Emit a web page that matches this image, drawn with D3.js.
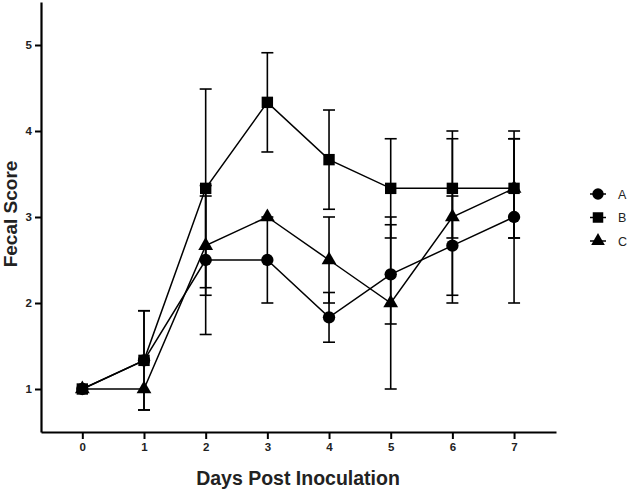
<!DOCTYPE html>
<html>
<head>
<meta charset="utf-8">
<script src="https://cdn.jsdelivr.net/npm/d3@7"></script>
<style>
  body { margin: 0; background: #fff; }
  text { font-family: "Liberation Sans", Arial, sans-serif; }
</style>
</head>
<body>
<div id="chart"></div>
<script>
// days and series (mean, sd)
const days = [0, 1, 2, 3, 4, 5, 6, 7]
const meanA = [1, 1.333, 2.5, 2.5, 1.833, 2.333, 2.667, 3]
const sdA = [0, 0.577, 0.866, 0.5, 0.289, 0.577, 0.577, 1]
const meanB = [1, 1.333, 3.333, 4.333, 3.667, 3.333, 3.333, 3.333]
const sdB = [0, 0.577, 1.155, 0.577, 0.577, 0.577, 0.577, 0.577]
const meanC = [1, 1, 2.667, 3, 2.5, 2, 3, 3.333]
const sdC = [0, 0, 0.577, 0, 0.5, 1, 1, 0.577]
const yTicks = [1, 2, 3, 4, 5]

const width = 630
const height = 491
const margin = { top: 2, right: 74, bottom: 59, left: 41 }

const series = [
  { name: 'A', shape: d3.symbolCircle, size: 120, mean: meanA, sd: sdA },
  { name: 'B', shape: d3.symbolSquare, size: 130, mean: meanB, sd: sdB },
  { name: 'C', shape: d3.symbolTriangle, size: 95, mean: meanC, sd: sdC },
]

const svg = d3
  .select('#chart')
  .append('svg')
  .attr('width', width)
  .attr('height', height)

const x = d3
  .scaleLinear()
  .domain([-0.67, 7.68])
  .range([margin.left, width - margin.right])

const y = d3
  .scaleLinear()
  .domain([0.5, 5.5])
  .range([height - margin.bottom, margin.top])

// axes
const xAxis = svg
  .append('g')
  .attr('transform', `translate(0, ${height - margin.bottom})`)
  .call(
    d3.axisBottom(x)
      .tickValues(days)
      .tickSizeInner(7)
      .tickSizeOuter(0)
      .tickPadding(4)
      .tickFormat(d3.format('d')),
  )

const yAxis = svg
  .append('g')
  .attr('transform', `translate(${margin.left}, 0)`)
  .call(
    d3.axisLeft(y)
      .tickValues(yTicks)
      .tickSizeInner(6)
      .tickSizeOuter(0)
      .tickPadding(3)
      .tickFormat(d3.format('d')),
  )

;[xAxis, yAxis].forEach(g => {
  g.select('.domain').attr('stroke', '#000').attr('stroke-width', 2.2)
  g.selectAll('.tick line').attr('stroke', '#000').attr('stroke-width', 2)
  g.selectAll('.tick text')
    .attr('fill', '#222')
    .style('font-size', '11.5px')
    .style('font-weight', 'bold')
})

// axis titles
svg
  .append('text')
  .attr('x', 298)
  .attr('y', 485)
  .attr('text-anchor', 'middle')
  .style('font-size', '19.5px')
  .style('font-weight', 'bold')
  .attr('fill', '#222')
  .text('Days Post Inoculation')

svg
  .append('text')
  .attr('transform', `translate(17, 214) rotate(-90)`)
  .attr('text-anchor', 'middle')
  .style('font-size', '19px')
  .style('font-weight', 'bold')
  .attr('fill', '#222')
  .text('Fecal Score')

const line = d3
  .line()
  .x(d => x(d.day))
  .y(d => y(d.mean))

const capW = 6

series.forEach(s => {
  const pts = days.map((day, i) => ({ day, mean: s.mean[i], sd: s.sd[i] }))
  const g = svg.append('g')

  // error bars
  const eb = g.selectAll('.eb').data(pts.filter(d => d.sd > 0)).join('g')
  eb.append('line')
    .attr('x1', d => x(d.day))
    .attr('x2', d => x(d.day))
    .attr('y1', d => y(d.mean - d.sd))
    .attr('y2', d => y(d.mean + d.sd))
    .attr('stroke', '#000')
    .attr('stroke-width', 1.6)
  ;[-1, 1].forEach(sign => {
    eb.append('line')
      .attr('x1', d => x(d.day) - capW)
      .attr('x2', d => x(d.day) + capW)
      .attr('y1', d => y(d.mean + sign * d.sd))
      .attr('y2', d => y(d.mean + sign * d.sd))
      .attr('stroke', '#000')
      .attr('stroke-width', 1.6)
  })

  g.append('path')
    .datum(pts)
    .attr('d', line)
    .attr('fill', 'none')
    .attr('stroke', '#000')
    .attr('stroke-width', 1.5)

  g.selectAll('.pt')
    .data(pts)
    .join('path')
    .attr('transform', d => `translate(${x(d.day)}, ${y(d.mean)})`)
    .attr('d', d3.symbol(s.shape, s.size))
    .attr('fill', '#000')
})

// legend
const legend = svg
  .append('g')
  .selectAll('g')
  .data(series)
  .join('g')
  .attr('transform', (d, i) => `translate(598, ${194 + i * 23.5})`)

legend.append('line')
  .attr('x1', -8)
  .attr('x2', 8)
  .attr('stroke', '#000')
  .attr('stroke-width', 1.5)

legend.append('path')
  .attr('d', d => d3.symbol(d.shape, d.size * 0.85)())
  .attr('fill', '#000')

legend.append('text')
  .attr('x', 20)
  .attr('dy', '0.36em')
  .style('font-size', '12.5px')
  .attr('fill', '#222')
  .text(d => d.name)
</script>
</body>
</html>
